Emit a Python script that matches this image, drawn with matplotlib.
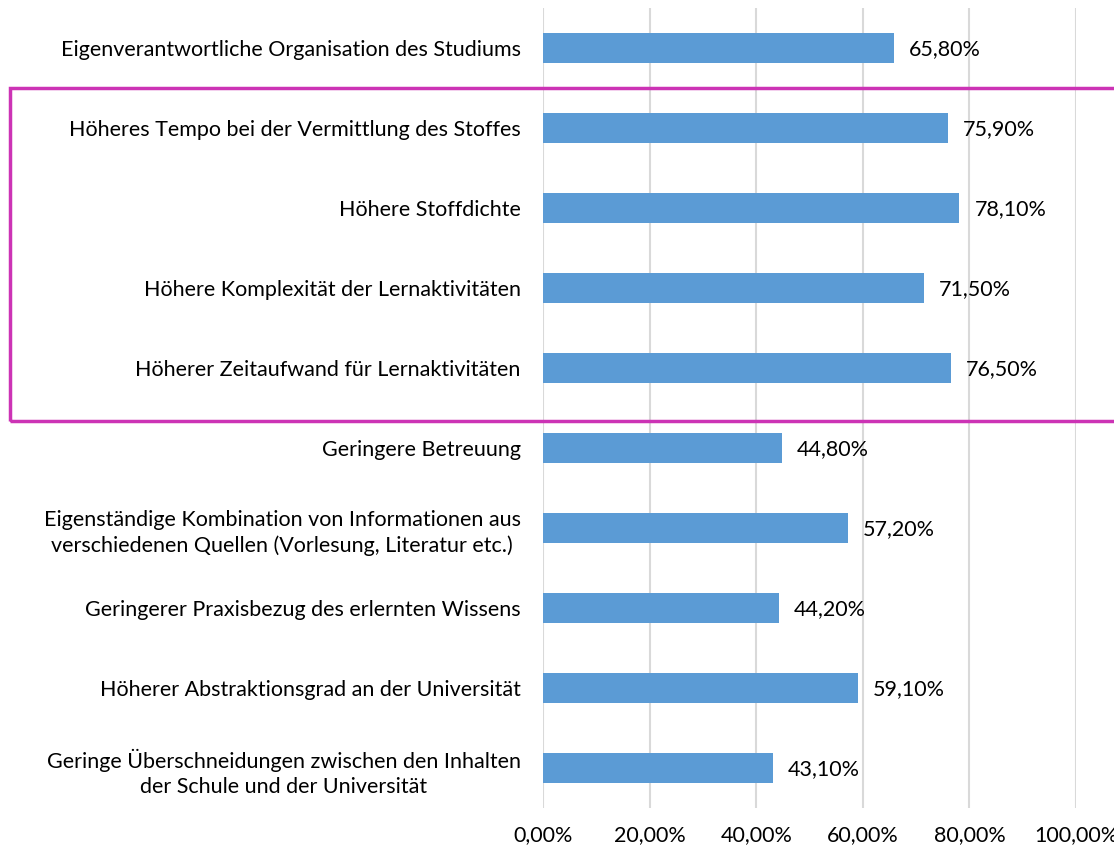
import matplotlib
matplotlib.use("Agg")
import matplotlib.pyplot as plt
from matplotlib.patches import Rectangle

categories = [
    "Eigenverantwortliche Organisation des Studiums",
    "Höheres Tempo bei der Vermittlung des Stoffes",
    "Höhere Stoffdichte",
    "Höhere Komplexität der Lernaktivitäten",
    "Höherer Zeitaufwand für Lernaktivitäten",
    "Geringere Betreuung",
    "Eigenständige Kombination von Informationen aus\nverschiedenen Quellen (Vorlesung, Literatur etc.)",
    "Geringerer Praxisbezug des erlernten Wissens",
    "Höherer Abstraktionsgrad an der Universität",
    "Geringe Überschneidungen zwischen den Inhalten\nder Schule und der Universität",
]
values = [65.8, 75.9, 78.1, 71.5, 76.5, 44.8, 57.2, 44.2, 59.1, 43.1]
xticks = [0, 20, 40, 60, 80, 100]
xtick_labels = ["0,00%", "20,00%", "40,00%", "60,00%", "80,00%", "100,00%"]

plt.rcParams['font.family'] = ['Lato', 'DejaVu Sans']
FS = 15.5

fig = plt.figure(figsize=(11.14, 8.48), dpi=100)
ax = fig.add_axes([543/1114, 1 - 808/848, (1076 - 543)/1114, 800/848])

y = list(range(len(categories)))
ax.barh(y, values, height=0.375, color="#5B9BD5", zorder=3)
ax.set_ylim(len(categories) - 0.5, -0.5)
ax.set_xlim(0, 100)
ax.set_xticks(xticks)
ax.set_xticklabels(xtick_labels, fontsize=FS)
ax.set_yticks(y)
ax.set_yticklabels(categories, fontsize=FS, multialignment="center", linespacing=1.35)
ax.tick_params(axis="both", length=0)
ax.tick_params(axis="y", pad=16)
ax.tick_params(axis="x", pad=12)
ax.grid(axis="x", color="#D9D9D9", linewidth=1.5, zorder=0)
for s in ax.spines.values():
    s.set_visible(False)

for yi, v in zip(y, values):
    ax.annotate(f"{v:.2f}".replace(".", ",") + "%", (v, yi), xytext=(11, -1),
                textcoords="offset points", va="center", ha="left", fontsize=FS)

rect = Rectangle((10/1114, 1 - 421/848), 1.2, (421 - 88)/848, transform=fig.transFigure,
                 fill=False, edgecolor="#CC33B5", linewidth=2.5, clip_on=False)
fig.patches.append(rect)

fig.savefig("out.png", dpi=100)
